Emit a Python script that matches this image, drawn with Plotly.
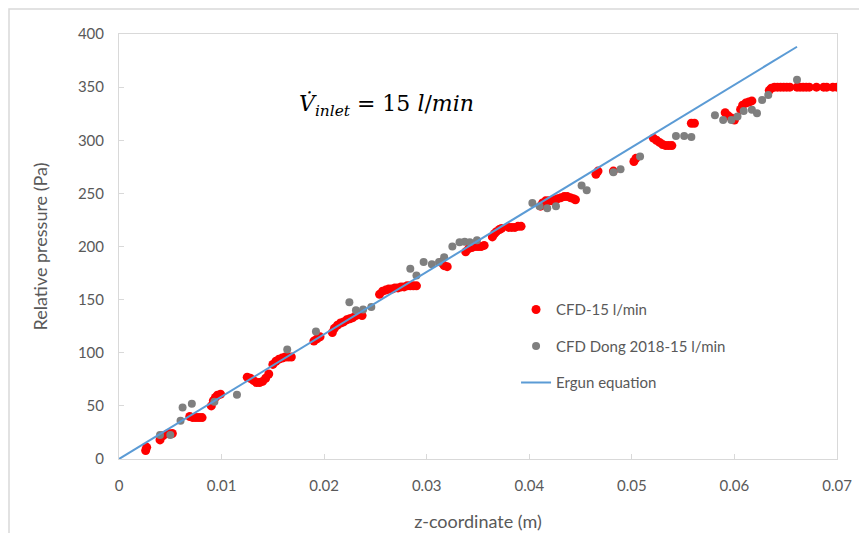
import plotly.graph_objects as go

# CFD-15 l/min (red)
red_x = [0.0026, 0.0027, 0.0040, 0.0043, 0.0048, 0.0052, 0.0069, 0.0072, 0.0075, 0.0078, 0.0081,
         0.0090, 0.0092, 0.0094, 0.0096, 0.0099, 0.0125, 0.0128, 0.0131, 0.0134, 0.0137, 0.0140,
         0.0143, 0.0146, 0.0150, 0.0153, 0.0156, 0.0159, 0.0162, 0.0165, 0.0168, 0.0190, 0.0193,
         0.0196, 0.0208, 0.0210, 0.0213, 0.0216, 0.0219, 0.0222, 0.0225, 0.0228, 0.0231, 0.0234,
         0.0237, 0.0254, 0.0257, 0.0260, 0.0263, 0.0266, 0.0269, 0.0272, 0.0275, 0.0278, 0.0281,
         0.0284, 0.0287, 0.0290, 0.0314, 0.0317, 0.0320, 0.0338, 0.0341, 0.0344, 0.0347, 0.0350,
         0.0353, 0.0356, 0.0364, 0.0366, 0.0368, 0.0371, 0.0373, 0.0380, 0.0383, 0.0386, 0.0389,
         0.0392, 0.0411, 0.0413, 0.0416, 0.0419, 0.0422, 0.0425, 0.0428, 0.0431, 0.0434, 0.0437,
         0.0440, 0.0443, 0.0445, 0.0465, 0.0467, 0.0482, 0.0502, 0.0504, 0.0521, 0.0524, 0.0527,
         0.0530, 0.0533, 0.0536, 0.0539, 0.0558, 0.0561, 0.0591, 0.0594, 0.0597, 0.0600, 0.0606,
         0.0608, 0.0611, 0.0614, 0.0617, 0.0634, 0.0636, 0.0639, 0.0642, 0.0645, 0.0648, 0.0651,
         0.0654, 0.0661, 0.0664, 0.0667, 0.0670, 0.0673, 0.0680, 0.0687, 0.0690, 0.0696, 0.0700]
red_y = [8, 11, 18, 22, 24, 24, 40, 39, 39, 39, 39,
         50, 55, 58, 60, 61, 77, 76, 74, 72, 72, 73,
         76, 80, 89, 92, 94, 95, 96, 96, 96, 111, 113,
         115, 119, 123, 126, 128, 129, 131, 132, 133, 135, 136,
         135, 155, 158, 159, 160, 160, 161, 161, 162, 162, 163,
         163, 163, 163, 185, 182, 181, 195, 198, 199, 200, 200,
         200, 201, 209, 212, 214, 216, 217, 218, 218, 218, 219,
         219, 238, 241, 243, 243, 243, 244, 245, 246, 247, 247,
         246, 245, 244, 268, 271, 271, 280, 283, 302, 300, 298,
         296, 295, 295, 295, 316, 316, 326, 323, 321, 319, 329,
         333, 335, 336, 337, 347, 349, 350, 350, 350, 350, 350,
         350, 350, 350, 350, 350, 350, 350, 350, 350, 350, 350]

# CFD Dong 2018-15 l/min (gray)
gray_x = [0.0040, 0.0050, 0.0060, 0.0062, 0.0071, 0.0093, 0.0115, 0.0164, 0.0192, 0.02246,
          0.0231, 0.0238, 0.0246, 0.0284, 0.0290, 0.0297, 0.0305, 0.0312, 0.0317, 0.0325,
          0.0332, 0.0337, 0.0342, 0.0349, 0.0403, 0.0410, 0.04175, 0.0426, 0.0451, 0.0456,
          0.0482, 0.0489, 0.0508, 0.0543, 0.0551, 0.0558, 0.0581, 0.0589, 0.0597, 0.0603,
          0.0609, 0.0617, 0.0622, 0.0627, 0.0633, 0.0661]
gray_y = [22.6, 22.6, 36, 48.4, 52, 54, 60.4, 103, 120, 147.5,
          140, 140.6, 143, 179, 172.6, 185.5, 183.3, 185.5, 190, 200,
          204, 204.5, 204, 206, 241, 238, 236, 238, 257.5, 253,
          270, 272.6, 284.6, 304, 304, 303, 323.6, 319, 319, 322.3,
          327.6, 328.6, 325.5, 338, 342.7, 357]

# Ergun equation
ergun_x = [0, 0.0661]
ergun_y = [0, 388]

x_ticks = [0, 0.01, 0.02, 0.03, 0.04, 0.05, 0.06, 0.07]
x_ticklabels = ["0", "0.01", "0.02", "0.03", "0.04", "0.05", "0.06", "0.07"]
y_ticks = [0, 50, 100, 150, 200, 250, 300, 350, 400]

FONT = "Lato"
TXT = "#595959"
AX = "#D9D9D9"

fig = go.Figure()
fig.add_trace(go.Scatter(x=red_x, y=red_y, mode="markers", name="CFD-15 l/min",
                         legendgroup="a",
                         marker=dict(color="#FF0000", size=9)))
fig.add_trace(go.Scatter(x=gray_x, y=gray_y, mode="markers", name="CFD Dong 2018-15 l/min",
                         legendgroup="b",
                         marker=dict(color="#7F7F7F", size=8)))
fig.add_trace(go.Scatter(x=ergun_x, y=ergun_y, mode="lines", name="Ergun equation",
                         legendgroup="c",
                         line=dict(color="#5B9BD5", width=2)))

fig.update_layout(
    width=867, height=533,
    margin=dict(l=111, r=38, t=26, b=82),
    paper_bgcolor="white", plot_bgcolor="white",
    font=dict(family=FONT, color=TXT, size=15),
    legend=dict(x=0.553, y=0.39, xanchor="left", yanchor="top",
                font=dict(family=FONT, size=15, color=TXT),
                tracegroupgap=14, bgcolor="rgba(0,0,0,0)"),
    xaxis=dict(range=[0, 0.07], tickvals=x_ticks, ticktext=x_ticklabels,
               showgrid=False, zeroline=False, showline=True, linecolor=AX, linewidth=1,
               mirror=True, ticks="inside", ticklen=5, tickcolor=AX,
               ticklabelstandoff=13,
               title=dict(text="z-coordinate (m)", font=dict(family=FONT, size=18, color=TXT),
                          standoff=22)),
    yaxis=dict(range=[0, 400], tickvals=y_ticks,
               showgrid=False, zeroline=False, showline=True, linecolor=AX, linewidth=1,
               mirror=True, ticks="inside", ticklen=5, tickcolor=AX,
               ticklabelstandoff=11,
               title=dict(text="Relative pressure (Pa)", font=dict(family=FONT, size=18, color=TXT),
                          standoff=25)),
    annotations=[dict(
        text="<i>V\u0307</i><sub><i>inlet</i></sub> = 15 <i>l</i>/<i>min</i>",
        x=0.373, y=0.871, xref="paper", yref="paper", showarrow=False,
        font=dict(family="DejaVu Serif", size=22, color="#000000"))],
    shapes=[dict(type="rect", xref="paper", yref="paper",
                 x0=-110 / 718, x1=1.3, y0=-0.4, y1=1 + 25 / 425,
                 line=dict(color=AX, width=1.5), fillcolor="rgba(0,0,0,0)", layer="below")],
    showlegend=True,
)

fig.write_html("out.html")
